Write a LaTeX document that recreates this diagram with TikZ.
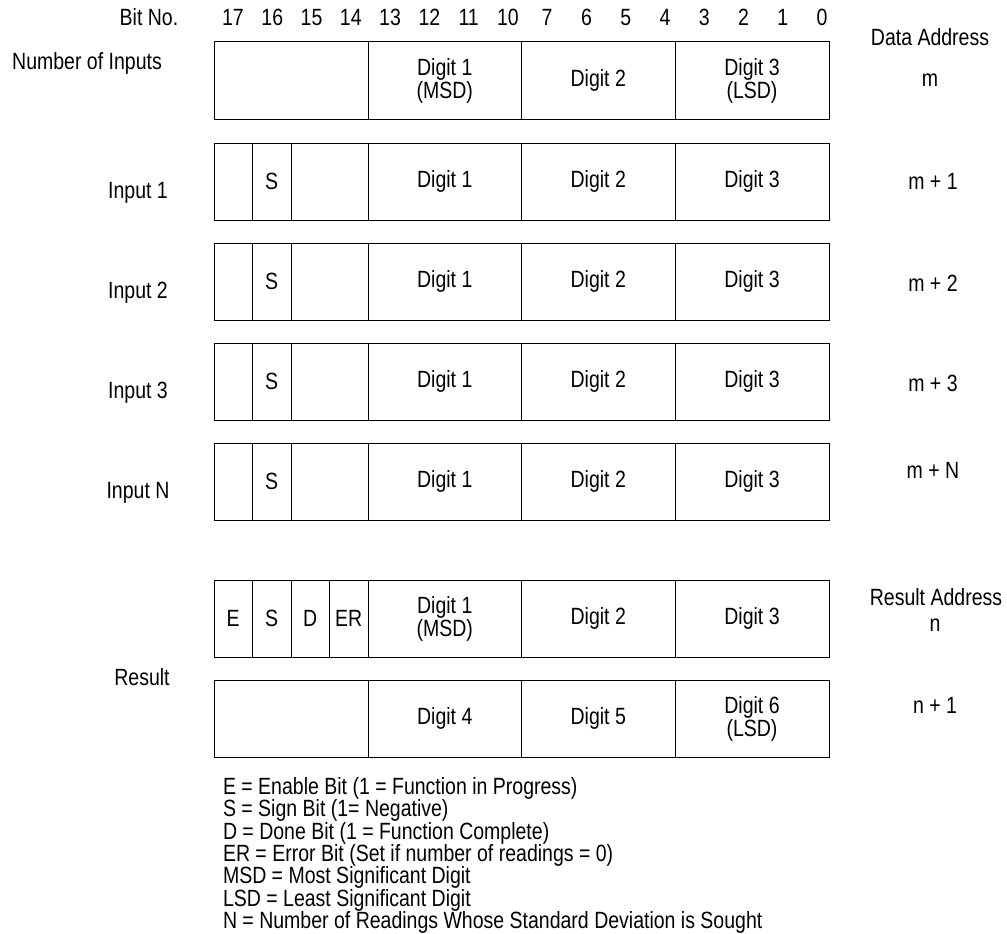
\documentclass[tikz,border=0pt]{standalone}
\usepackage{fontspec}
\setmainfont{Liberation Sans}[FakeStretch=0.83]
\newcommand{\cellat}[5]{\node[cell, minimum width=#4pt] (#1) at (#2,#3) {#5};}
\begin{document}
\begin{tikzpicture}[x=1pt,y=-1pt,
  every node/.style={font=\fontsize{23.5}{21}\selectfont, inner sep=0pt, outer sep=0pt},
  cell/.style={draw, line width=1pt, minimum height=77pt, anchor=north west, align=center},
  lbl/.style={anchor=base},
  leg/.style={anchor=base west}]
\useasboundingbox (0,0) rectangle (1007,934);

% header
\node[lbl] (bitno) at (149,25.5) {Bit No.};
\foreach \b [count=\i from 0] in {17,16,15,14,13,12,11,10,7,6,5,4,3,2,1,0}
  \node[lbl] (bit\i) at ({233+39.27*\i},25.5) {\b};

% number of inputs row
\node[lbl] (noi) at (87,69.5) {Number of Inputs};
\cellat{n0}{214}{42}{154}{}
\cellat{n1}{368}{42}{153.5}{Digit 1\\(MSD)}
\cellat{n2}{521.5}{42}{153.5}{Digit 2}
\cellat{n3}{675}{42}{154}{Digit 3\\(LSD)}
\node[lbl] (daddr) at (930,46) {Data Address};
\node[lbl] (dm) at (930,87) {m};

% input rows
\foreach \k/\y/\nm/\adr/\ay in {1/143/Input 1/m + 1/189.5, 2/243/Input 2/m + 2/291.5, 3/343/Input 3/m + 3/391.5, N/443/Input N/m + N/478.5}{
  \cellat{i\k a}{214}{\y}{38.5}{}
  \cellat{i\k s}{252.5}{\y}{38.5}{S}
  \cellat{i\k b}{291}{\y}{77}{}
  \cellat{i\k d1}{368}{\y}{153.5}{Digit 1}
  \cellat{i\k d2}{521.5}{\y}{153.5}{Digit 2}
  \cellat{i\k d3}{675}{\y}{154}{Digit 3}
  \node[lbl] (in\k) at (138,\y+55.5) {\nm};
  \node[lbl] (ad\k) at (933,\ay) {\adr};
}

% result rows
\cellat{re}{214}{580}{38.5}{E}
\cellat{rs}{252.5}{580}{38.5}{S}
\cellat{rd}{291}{580}{38.5}{D}
\cellat{rer}{329.5}{580}{38.5}{ER}
\cellat{r1}{368}{580}{153.5}{Digit 1\\(MSD)}
\cellat{r2}{521.5}{580}{153.5}{Digit 2}
\cellat{r3}{675}{580}{154}{Digit 3}
\cellat{q0}{214}{680}{154}{}
\cellat{q4}{368}{680}{153.5}{Digit 4}
\cellat{q5}{521.5}{680}{153.5}{Digit 5}
\cellat{q6}{675}{680}{154}{Digit 6\\(LSD)}
\node[lbl] (res) at (142,685.5) {Result};
\node[lbl] (raddr) at (936,605.5) {Result Address};
\node[lbl] (rn) at (935,631) {n};
\node[lbl] (rn1) at (935,713.5) {n + 1};

% legend
\node[leg] (l1) at (223,794.5) {E = Enable Bit (1 = Function in Progress)};
\node[leg] (l2) at (223,816.8) {S = Sign Bit (1= Negative)};
\node[leg] (l3) at (223,839.1) {D = Done Bit (1 = Function Complete)};
\node[leg] (l4) at (223,861.4) {ER = Error Bit (Set if number of readings = 0)};
\node[leg] (l5) at (223,883.7) {MSD = Most Significant Digit};
\node[leg] (l6) at (223,906.0) {LSD = Least Significant Digit};
\node[leg] (l7) at (223,928.3) {N = Number of Readings Whose Standard Deviation is Sought};
\end{tikzpicture}
\end{document}
